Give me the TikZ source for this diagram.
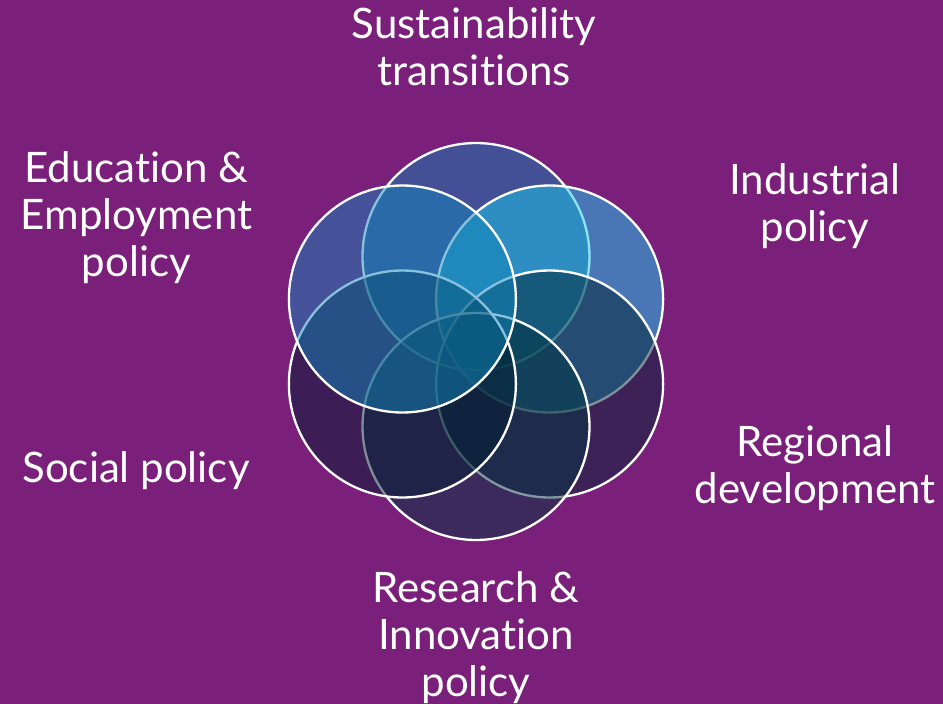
\documentclass[tikz,border=0pt]{standalone}
\usepackage{fontspec}
\setmainfont[Ligatures=NoCommon]{Lato}
\usetikzlibrary{calc}
\definecolor{bgpurple}{RGB}{122,31,122}
\definecolor{ctop}{RGB}{14,129,178}
\definecolor{cupright}{RGB}{26,205,238}
\definecolor{clowright}{RGB}{2,37,54}
\definecolor{cbottom}{RGB}{2,53,66}
\definecolor{clowleft}{RGB}{0,29,50}
\definecolor{cupleft}{RGB}{18,133,186}
\tikzset{
  petal/.style={circle, draw=white, line width=2.3pt, fill opacity=0.5,
    minimum size=227pt, inner sep=0pt},
  topic/.style={text=white, align=center, anchor=base,
    font=\fontsize{42}{47}\selectfont}
}
\begin{document}
\begin{tikzpicture}[x=1pt, y=-1pt]
\fill[bgpurple] (0,0) rectangle (943,704);
\useasboundingbox (0,0) rectangle (943,704);
\def\r{85}
\coordinate (c) at (476,341.5);
% six overlapping circles, drawn clockwise from the top (y points down)
\node[petal, fill=ctop]      (top)      at ($(c)+(-90:\r)$)  {};
\node[petal, fill=cupright]  (upright)  at ($(c)+(-30:\r)$)  {};
\node[petal, fill=clowright] (lowright) at ($(c)+(30:\r)$)   {};
\node[petal, fill=cbottom]   (bottom)   at ($(c)+(90:\r)$)   {};
\node[petal, fill=clowleft]  (lowleft)  at ($(c)+(150:\r)$)  {};
\node[petal, fill=cupleft]   (upleft)   at ($(c)+(210:\r)$)  {};
% labels, placed at the baseline of their last line
\node[topic] (sust)  at (474,85)      {Sustainability\\transitions};
\node[topic] (indus) at (815,241.7)   {Industrial\\policy};
\node[topic] (regio) at (815,503)     {Regional\\development};
\node[topic] (resin) at (476,696.7)   {Research \&\\Innovation\\policy};
\node[topic] (socia) at (136,482)     {Social policy};
\node[topic] (eduem) at (136.5,276.7) {Education \&\\Employment\\policy};
\end{tikzpicture}
\end{document}
